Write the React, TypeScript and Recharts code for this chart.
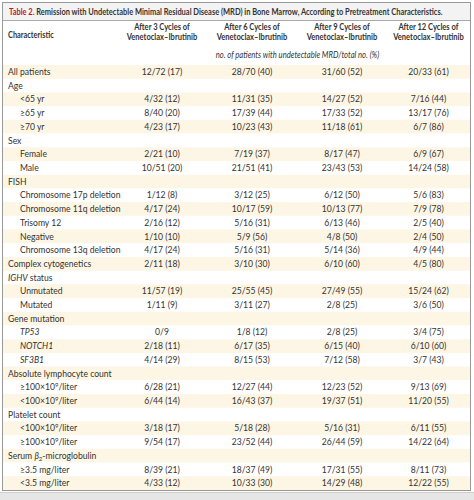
import { BarChart, Bar, XAxis, YAxis, Cell, LabelList } from 'recharts';

// row labels: *x* italic, ^x^ superscript, ~x~ subscript
const characteristics = [
  'All patients', 'Age', '<65 yr', '≥65 yr', '≥70 yr', 'Sex', 'Female', 'Male', 'FISH',
  'Chromosome 17p deletion', 'Chromosome 11q deletion', 'Trisomy 12', 'Negative', 'Chromosome 13q deletion',
  'Complex cytogenetics', '*IGHV* status', 'Unmutated', 'Mutated', 'Gene mutation', '*TP53*', '*NOTCH1*', '*SF3B1*',
  'Absolute lymphocyte count', '≥100×10^9^/liter', '<100×10^9^/liter', 'Platelet count', '<100×10^9^/liter',
  '≥100×10^9^/liter', 'Serum *β*~2~-microglobulin', '≥3.5 mg/liter', '<3.5 mg/liter',
];
const subgroup = [
  false, false, true, true, true, false, true, true, false, true, true, true, true, true, false, false, true, true,
  false, true, true, true, false, true, true, false, true, true, false, true, true,
];

const after3 = ['12/72 (17)', '', '4/32 (12)', '8/40 (20)', '4/23 (17)', '', '2/21 (10)', '10/51 (20)', '', '1/12 (8)', '4/17 (24)', '2/16 (12)', '1/10 (10)', '4/17 (24)', '2/11 (18)', '', '11/57 (19)', '1/11 (9)', '', '0/9', '2/18 (11)', '4/14 (29)', '', '6/28 (21)', '6/44 (14)', '', '3/18 (17)', '9/54 (17)', '', '8/39 (21)', '4/33 (12)'];
const after6 = ['28/70 (40)', '', '11/31 (35)', '17/39 (44)', '10/23 (43)', '', '7/19 (37)', '21/51 (41)', '', '3/12 (25)', '10/17 (59)', '5/16 (31)', '5/9 (56)', '5/16 (31)', '3/10 (30)', '', '25/55 (45)', '3/11 (27)', '', '1/8 (12)', '6/17 (35)', '8/15 (53)', '', '12/27 (44)', '16/43 (37)', '', '5/18 (28)', '23/52 (44)', '', '18/37 (49)', '10/33 (30)'];
const after9 = ['31/60 (52)', '', '14/27 (52)', '17/33 (52)', '11/18 (61)', '', '8/17 (47)', '23/43 (53)', '', '6/12 (50)', '10/13 (77)', '6/13 (46)', '4/8 (50)', '5/14 (36)', '6/10 (60)', '', '27/49 (55)', '2/8 (25)', '', '2/8 (25)', '6/15 (40)', '7/12 (58)', '', '12/23 (52)', '19/37 (51)', '', '5/16 (31)', '26/44 (59)', '', '17/31 (55)', '14/29 (48)'];
const after12 = ['20/33 (61)', '', '7/16 (44)', '13/17 (76)', '6/7 (86)', '', '6/9 (67)', '14/24 (58)', '', '5/6 (83)', '7/9 (78)', '2/5 (40)', '2/4 (50)', '4/9 (44)', '4/5 (80)', '', '15/24 (62)', '3/6 (50)', '', '3/4 (75)', '6/10 (60)', '3/7 (43)', '', '9/13 (69)', '11/20 (55)', '', '6/11 (55)', '14/22 (64)', '', '8/11 (73)', '12/22 (55)'];

const columnHeaders = [
  ['Characteristic'],
  ['After 3 Cycles of', 'Venetoclax–Ibrutinib'],
  ['After 6 Cycles of', 'Venetoclax–Ibrutinib'],
  ['After 9 Cycles of', 'Venetoclax–Ibrutinib'],
  ['After 12 Cycles of', 'Venetoclax–Ibrutinib'],
];
const unitsNote = 'no. of patients with undetectable MRD/total no. (%)';

// relative column widths (layout)
const COL_W = [114, 90, 90, 90, 83];
const TOTAL_W = COL_W.reduce((a, b) => a + b, 0);
const colStart = COL_W.map((_, i) => COL_W.slice(0, i).reduce((a, b) => a + b, 0));
const tickValues = [0, ...COL_W.slice(1).map((w, i) => colStart[i + 1] + w / 2)];

const FONT = 'Lato, "Open Sans", sans-serif';
const FS = 8.6;
const TEXT = '#333';
const STRIPE = '#fdf6e5';
// the original face is narrower in bold/italic; squeeze horizontally around an anchor
const squeeze = (x: number, k: number) => `translate(${x} 0) scale(${k} 1) translate(${-x} 0)`;

const rows = characteristics.map((label, i) => ({
  label,
  after3: after3[i],
  after6: after6[i],
  after9: after9[i],
  after12: after12[i],
  w0: COL_W[0],
  w1: COL_W[1],
  w2: COL_W[2],
  w3: COL_W[3],
  w4: COL_W[4],
}));

function RichText({ text, x, y }: { text: string; x: number; y: number }) {
  const parts = text.split(/(\*[^*]+\*|\^[^^]+\^|~[^~]+~)/).filter(Boolean);
  let shift = 0;
  return (
    <text x={x} y={y + 3} fontSize={FS} fill={TEXT} fontFamily={FONT}>
      {parts.map((p, k) => {
        const back = -shift;
        if (p.startsWith('*')) {
          shift = 0;
          return <tspan key={k} dy={back} fontStyle="italic">{p.slice(1, -1)}</tspan>;
        }
        if (p.startsWith('^')) {
          shift = -3;
          return <tspan key={k} dy={back - 3} fontSize={6}>{p.slice(1, -1)}</tspan>;
        }
        if (p.startsWith('~')) {
          shift = 2;
          return <tspan key={k} dy={back + 2} fontSize={6}>{p.slice(1, -1)}</tspan>;
        }
        shift = 0;
        return <tspan key={k} dy={back}>{p}</tspan>;
      })}
    </text>
  );
}

const renderLabel = (props: any) => {
  const { x, y, height, index, value } = props;
  const indent = subgroup[index] ? 17 : 5;
  return <RichText text={String(value)} x={x + indent} y={y + height / 2} />;
};

const renderCell = (props: any) => {
  const { x, y, width, height, value } = props;
  if (!value) return null;
  return (
    <text x={x + width / 2} y={y + height / 2 + 3} textAnchor="middle" fontSize={FS} fill={TEXT} fontFamily={FONT}>
      {value}
    </text>
  );
};

const HeaderTick = (props: any) => {
  const { x, y, index } = props;
  const lines = columnHeaders[index];
  if (index === 0) {
    return (
      <text x={x + 5} y={y - 25} fontSize={FS} fontWeight="bold" fill={TEXT} fontFamily={FONT} transform={squeeze(x + 5, 0.86)}>
        {lines[0]}
      </text>
    );
  }
  return (
    <text textAnchor="middle" fontSize={FS} fontWeight="bold" fill={TEXT} fontFamily={FONT} transform={squeeze(x, 0.88)}>
      {lines.map((l: string, k: number) => (
        <tspan key={k} x={x} y={y - 33 + k * 9.8}>{l}</tspan>
      ))}
    </text>
  );
};

const renderNote = (props: any) => {
  const { viewBox } = props;
  const cx = viewBox.x + (viewBox.width * (COL_W[0] + (TOTAL_W - COL_W[0]) / 2)) / TOTAL_W + 4;
  return (
    <text
      x={cx}
      y={viewBox.y + viewBox.height - 7}
      textAnchor="middle"
      fontSize={FS}
      fontStyle="italic"
      fill={TEXT}
      fontFamily={FONT}
      transform={squeeze(cx, 0.89)}
    >
      {unitsNote}
    </text>
  );
};

const columns = ['after3', 'after6', 'after9', 'after12'];

export default function App() {
  return (
    <div style={{ position: 'absolute', left: 0, top: 0, width: 474, height: 500, background: '#fff', overflow: 'hidden' }}>
      <div style={{ position: 'absolute', left: 0, top: 492, width: 474, height: 8, background: '#e6e6e6', borderTop: '1px solid #cfcfcf' }} />
      <div style={{ position: 'absolute', left: 2, top: 2, width: 467, height: 487, border: '1px solid #999', background: '#fff' }}>
        <div
          style={{
            height: 17,
            lineHeight: '17px',
            background: '#f3f3f3',
            borderBottom: '1px solid #aaa',
            paddingLeft: 6,
            fontFamily: FONT,
            fontSize: 9,
            fontWeight: 'bold',
            color: TEXT,
            whiteSpace: 'nowrap',
          }}
        >
          <span style={{ display: 'inline-block', transform: 'scaleX(0.83)', transformOrigin: 'left center' }}>
            <span style={{ color: '#c0152f' }}>Table 2.</span> Remission with Undetectable Minimal Residual Disease (MRD) in
            Bone Marrow, According to Pretreatment Characteristics.
          </span>
        </div>
        <BarChart
          width={467}
          height={469}
          data={rows}
          layout="vertical"
          barCategoryGap={0}
          margin={{ top: 0, right: 0, bottom: 0, left: 0 }}
        >
          <XAxis
            type="number"
            orientation="top"
            domain={[0, TOTAL_W]}
            ticks={tickValues}
            interval={0}
            height={44}
            axisLine={false}
            tickLine={false}
            tickSize={0}
            tick={<HeaderTick />}
            label={renderNote}
          />
          <YAxis type="category" dataKey="label" hide />
          {[0, 1, 2, 3, 4].map((c) => (
            <Bar key={c} dataKey={`w${c}`} stackId="row" isAnimationActive={false}>
              {rows.map((_, i) => (
                <Cell key={i} fill={i % 2 === 0 ? STRIPE : '#ffffff'} />
              ))}
              {c === 0 ? (
                <LabelList dataKey="label" content={renderLabel} />
              ) : (
                <LabelList dataKey={columns[c - 1]} content={renderCell} />
              )}
            </Bar>
          ))}
        </BarChart>
      </div>
    </div>
  );
}
